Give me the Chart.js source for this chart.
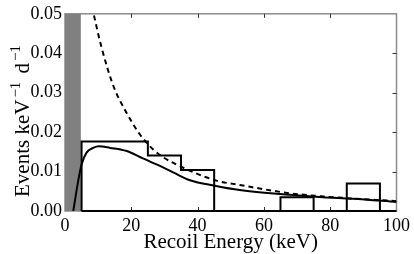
<!DOCTYPE html>
<html><head><meta charset="utf-8">
<script src="https://cdn.jsdelivr.net/npm/chart.js@4/dist/chart.umd.min.js"></script>
<style>html,body{margin:0;padding:0;background:#fff;}</style>
</head><body>
<canvas id="c" width="414" height="254"></canvas>
<script>
// ---- data ----
const xTicks = [0, 20, 40, 60, 80, 100];
const yTicks = [0, 0.01, 0.02, 0.03, 0.04, 0.05];
const thresholdBand = [0, 4.8];            // keV, shaded region
const binEdges = [5, 25, 35, 45, 65, 75, 85, 95, 100];
const binRates = [0.0176, 0.0141, 0.0104, 0, 0.0035, 0, 0.0070, 0];
const modelEnergy = [2.5, 4, 5, 6.5, 8.5, 10.3, 13.6, 18.6, 22.6, 27.6, 32.6, 37.7, 45.2, 52.7, 67.8, 77.8, 86.8, 100];
const modelRate   = [0, 0.0077, 0.0118, 0.0148, 0.0160, 0.0164, 0.0160, 0.0152, 0.0137, 0.0118, 0.0098, 0.0078, 0.0064, 0.0053, 0.0041, 0.0035, 0.0031, 0.0023];
const bgEnergy = [7.5, 8.7, 11.05, 14.6, 18.5, 22.6, 26.6, 29.1, 37.7, 45.7, 52.7, 67.8, 77.7, 100];
const bgRate   = [0.054, 0.0497, 0.0414, 0.0317, 0.0250, 0.0194, 0.0156, 0.0139, 0.0102, 0.0077, 0.0066, 0.0045, 0.0037, 0.0025];

const SERIF = "'Liberation Serif', 'Times New Roman', serif";

// ---- derived point lists ----
const yMax = yTicks[yTicks.length - 1];
const bandPts = thresholdBand.map(v => ({x: v, y: yMax}));
const histPts = [{x: binEdges[0], y: 0}];
binRates.forEach((h, i) => { histPts.push({x: binEdges[i], y: h}); histPts.push({x: binEdges[i + 1], y: h}); });
histPts.push({x: binEdges[binEdges.length - 1], y: 0});
histPts.push({x: binEdges[0], y: 0});
const modelPts = modelEnergy.map((e, i) => ({x: e, y: modelRate[i]}));
const bgPts = bgEnergy.map((e, i) => ({x: e, y: bgRate[i]}));

const frame = {
  id: 'frame',
  beforeDatasetsDraw(chart) {
    const {ctx, chartArea: a, scales: {x, y}} = chart;
    ctx.save();
    ctx.strokeStyle = '#8c8c8c';
    ctx.lineWidth = 1.5;
    ctx.strokeRect(a.left, a.top, a.right - a.left, a.bottom - a.top);
    ctx.strokeStyle = '#333';
    ctx.lineWidth = 1;
    ctx.beginPath();
    xTicks.slice(1, -1).forEach(v => {
      const px = Math.round(x.getPixelForValue(v)) + 0.5;
      ctx.moveTo(px, a.bottom); ctx.lineTo(px, a.bottom - 4);
      ctx.moveTo(px, a.top); ctx.lineTo(px, a.top + 4);
    });
    yTicks.slice(1, -1).forEach(v => {
      const py = Math.round(y.getPixelForValue(v)) + 0.5;
      ctx.moveTo(a.left, py); ctx.lineTo(a.left + 4, py);
      ctx.moveTo(a.right, py); ctx.lineTo(a.right - 4, py);
    });
    ctx.stroke();
    ctx.restore();
  },
  afterDraw(chart) {
    const {ctx, chartArea: a} = chart;
    ctx.save();
    ctx.fillStyle = '#000';
    // x title
    ctx.font = '21px ' + SERIF;
    ctx.textAlign = 'center';
    ctx.textBaseline = 'alphabetic';
    ctx.fillText('Recoil Energy (keV)', (a.left + a.right) / 2, 248);
    // y title with superscripts
    ctx.translate(29, 197);
    ctx.rotate(-Math.PI / 2);
    ctx.textAlign = 'left';
    const parts = [['Events keV', 21, 0, 0], ['\u22121', 15, -9, 2], [' d', 21, 0, 3], ['\u22121', 15, -9, 2]];
    let off = 0;
    parts.forEach(([t, s, dy, gap]) => {
      off += gap;
      ctx.font = s + 'px ' + SERIF;
      ctx.fillText(t, off, dy);
      off += ctx.measureText(t).width;
    });
    ctx.restore();
  }
};

new Chart(document.getElementById('c'), {
  type: 'line',
  data: {
    datasets: [
      {data: bandPts, fill: 'origin', backgroundColor: '#808080', borderWidth: 0, pointRadius: 0, order: 10},
      {data: bgPts, borderColor: '#000', borderWidth: 2, borderDash: [5, 4], pointRadius: 0, cubicInterpolationMode: 'monotone', fill: false, order: 1},
      {data: modelPts, borderColor: '#000', borderWidth: 2, pointRadius: 0, cubicInterpolationMode: 'monotone', fill: false, order: 0},
      {data: histPts, borderColor: '#000', borderWidth: 2, pointRadius: 0, tension: 0, fill: false, clip: 2, order: 2}
    ]
  },
  options: {
    responsive: false,
    animation: false,
    devicePixelRatio: 1,
    layout: {padding: {left: 0, right: 16, top: 11, bottom: 0}},
    plugins: {legend: {display: false}, tooltip: {enabled: false}},
    scales: {
      x: {
        type: 'linear', min: xTicks[0], max: xTicks[xTicks.length - 1],
        afterBuildTicks: s => { s.ticks = xTicks.map(v => ({value: v})); },
        afterFit: s => { s.height = 43; },
        grid: {display: false, drawTicks: false},
        border: {display: false},
        ticks: {color: '#000', font: {family: SERIF, size: 18}, padding: 4, maxRotation: 0, callback: v => String(v)}
      },
      y: {
        type: 'linear', min: yTicks[0], max: yMax,
        afterBuildTicks: s => { s.ticks = yTicks.map(v => ({value: v})); },
        afterFit: s => { s.width = 65; },
        grid: {display: false, drawTicks: false},
        border: {display: false},
        ticks: {color: '#000', font: {family: SERIF, size: 18}, padding: 3, callback: v => v.toFixed(2)}
      }
    }
  },
  plugins: [frame]
});
</script>
</body></html>
